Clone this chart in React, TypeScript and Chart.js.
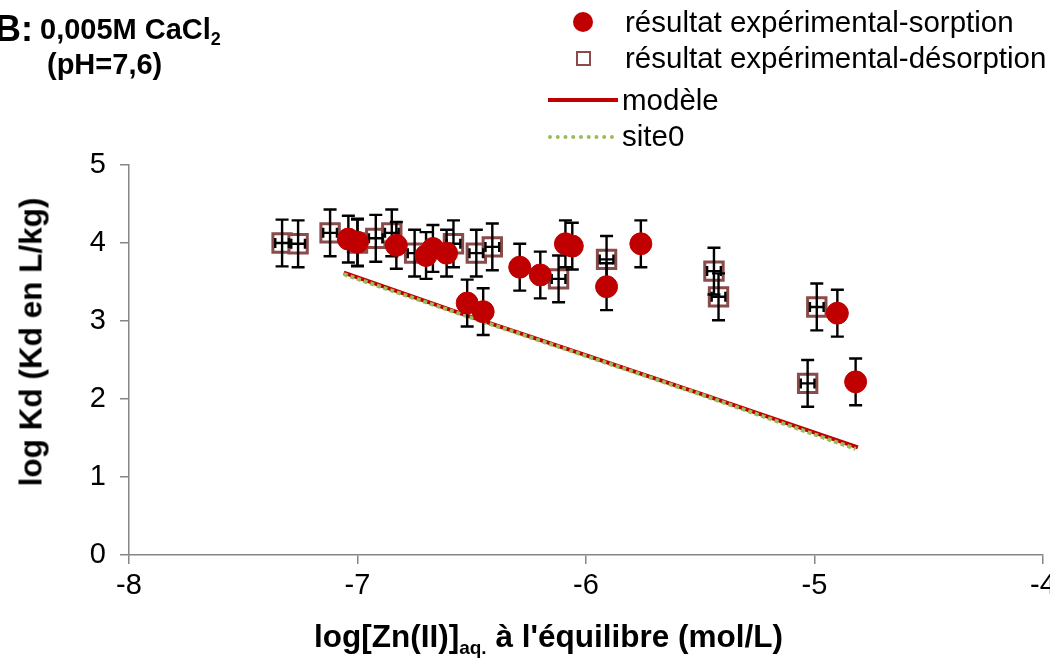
import React, { useEffect, useRef } from "react";
import { Chart, registerables } from "chart.js";

Chart.register(...registerables);

// ---- data ----
const sorptionX = [-7.04, -7.0, -6.83, -6.7, -6.67, -6.61, -6.52, -6.45, -6.29, -6.2, -6.09, -6.06, -5.91, -5.76, -4.9, -4.82];
const sorptionY = [4.05, 4.01, 3.97, 3.84, 3.93, 3.87, 3.23, 3.12, 3.69, 3.59, 3.99, 3.96, 3.44, 3.99, 3.1, 2.22];
const sorptionErr = [0.3, 0.3, 0.3, 0.3, 0.3, 0.3, 0.3, 0.3, 0.3, 0.3, 0.3, 0.3, 0.3, 0.3, 0.3, 0.3];

const desorptionX = [-7.33, -7.26, -7.12, -7.0, -6.92, -6.85, -6.75, -6.58, -6.48, -6.41, -6.12, -5.91, -5.44, -5.42, -4.99, -5.03];
const desorptionY = [4.0, 3.99, 4.13, 4.0, 4.06, 4.13, 3.87, 3.99, 3.87, 3.95, 3.54, 3.79, 3.64, 3.31, 3.18, 2.2];
const desorptionErr = [0.3, 0.3, 0.3, 0.3, 0.3, 0.3, 0.3, 0.3, 0.3, 0.3, 0.3, 0.3, 0.3, 0.3, 0.3, 0.3];
const desorptionXErr = [0.03, 0.03, 0.03, 0.03, 0.03, 0.03, 0.03, 0.03, 0.03, 0.03, 0.03, 0.03, 0.03, 0.03, 0.03, 0.03];

const modelX = [-7.06, -6.52, -6.08, -5.5, -4.81];
const modelY = [3.62, 3.07, 2.64, 2.07, 1.38];
const site0X = [-7.06, -6.52, -6.08, -5.5, -4.82];
const site0Y = [3.6, 3.06, 2.63, 2.06, 1.36];

const xTicks = [-8, -7, -6, -5, -4];
const yTicks = [0, 1, 2, 3, 4, 5];

const RED = "#C00000";
const GREEN = "#9BBB59";
const SQ = "#8A4B4B";
const AXIS = "#868686";
const FONT = "'Liberation Sans', Arial, sans-serif";

const toPts = (xs: number[], ys: number[]) => xs.map((x, i) => ({ x, y: ys[i] }));

const errorBars = {
  id: "errorBars",
  beforeDatasetDraw(chart: any, args: any) {
    if (args.index !== 0) return; // draw just before the sorption dataset
    const { ctx, scales } = chart;
    const xs = scales.x, ys = scales.y;
    ctx.save();
    ctx.strokeStyle = "#000";
    ctx.lineWidth = 2.4;
    const cap = 6.5;
    const vbar = (x: number, y: number, e: number) => {
      const px = xs.getPixelForValue(x);
      const p1 = ys.getPixelForValue(y - e);
      const p2 = ys.getPixelForValue(y + e);
      ctx.beginPath();
      ctx.moveTo(px, p1); ctx.lineTo(px, p2);
      ctx.moveTo(px - cap, p1); ctx.lineTo(px + cap, p1);
      ctx.moveTo(px - cap, p2); ctx.lineTo(px + cap, p2);
      ctx.stroke();
    };
    const hbar = (x: number, y: number, e: number) => {
      const py = ys.getPixelForValue(y);
      const p1 = xs.getPixelForValue(x - e);
      const p2 = xs.getPixelForValue(x + e);
      ctx.beginPath();
      ctx.moveTo(p1, py); ctx.lineTo(p2, py);
      ctx.moveTo(p1, py - 5); ctx.lineTo(p1, py + 5);
      ctx.moveTo(p2, py - 5); ctx.lineTo(p2, py + 5);
      ctx.stroke();
    };
    desorptionX.forEach((x, i) => {
      vbar(x, desorptionY[i], desorptionErr[i]);
      hbar(x, desorptionY[i], desorptionXErr[i]);
    });
    sorptionX.forEach((x, i) => vbar(x, sorptionY[i], sorptionErr[i]));
    ctx.restore();
  },
};

export default function App() {
  const ref = useRef<HTMLCanvasElement | null>(null);
  useEffect(() => {
    if (!ref.current) return;
    const tickFont = { family: FONT, size: 29 };
    const chart = new Chart(ref.current, {
      type: "scatter",
      data: {
        datasets: [
          {
            label: "résultat expérimental-sorption",
            data: toPts(sorptionX, sorptionY),
            pointStyle: "circle",
            pointRadius: 11,
            backgroundColor: RED,
            borderColor: RED,
            borderWidth: 1,
            order: 0,
          },
          {
            label: "résultat expérimental-désorption",
            data: toPts(desorptionX, desorptionY),
            pointStyle: "rect",
            pointRadius: 13,
            backgroundColor: "rgba(255,255,255,0.85)",
            borderColor: SQ,
            borderWidth: 3,
            order: 1,
          },
          {
            label: "site0",
            data: toPts(site0X, site0Y),
            showLine: true,
            borderColor: GREEN,
            borderWidth: 4,
            borderDash: [4, 3],
            pointRadius: 0,
            order: 2,
          },
          {
            label: "modèle",
            data: toPts(modelX, modelY),
            showLine: true,
            borderColor: RED,
            borderWidth: 4,
            pointRadius: 0,
            order: 3,
          },
        ],
      },
      options: {
        responsive: false,
        animation: false,
        layout: { autoPadding: false, padding: { left: 0, top: 165, right: 7, bottom: 0 } },
        plugins: { legend: { display: false }, tooltip: { enabled: false } },
        scales: {
          x: {
            type: "linear",
            min: -8,
            max: -4,
            afterBuildTicks: (s: any) => { s.ticks = xTicks.map((v) => ({ value: v })); },
            afterFit: (s: any) => { s.height = 108; s.paddingLeft = 0; s.paddingRight = 0; },
            ticks: { font: tickFont, color: "#000", padding: 5, maxRotation: 0, callback: (v: any) => String(v) },
            grid: { drawOnChartArea: false, drawTicks: true, tickLength: 9, color: AXIS, lineWidth: 1.5 },
            border: { color: AXIS, width: 1.5 },
          },
          y: {
            type: "linear",
            min: 0,
            max: 5,
            afterBuildTicks: (s: any) => { s.ticks = yTicks.map((v) => ({ value: v })); },
            afterFit: (s: any) => { s.width = 129; s.paddingTop = 0; s.paddingBottom = 0; },
            ticks: { font: tickFont, color: "#000", padding: 14, callback: (v: any) => String(v) },
            grid: { drawOnChartArea: false, drawTicks: true, tickLength: 9, color: AXIS, lineWidth: 1.5 },
            border: { color: AXIS, width: 1.5 },
          },
        },
      },
      plugins: [errorBars],
    });
    return () => chart.destroy();
  }, []);

  const legendText: React.CSSProperties = {
    position: "absolute",
    fontFamily: FONT,
    fontSize: 29.5,
    lineHeight: "29px",
    color: "#000",
    whiteSpace: "nowrap",
  };
  const bold: React.CSSProperties = {
    position: "absolute",
    fontFamily: FONT,
    fontWeight: "bold",
    color: "#000",
    whiteSpace: "nowrap",
  };

  return (
    <div style={{ position: "fixed", left: 0, top: 0, width: 1050, height: 663, background: "#fff", overflow: "hidden" }}>
      <canvas ref={ref} width={1050} height={663} style={{ display: "block", position: "absolute", left: 0, top: 0 }} />
      {/* panel label */}
      <div style={{ ...bold, left: -5, top: 11, fontSize: 36, lineHeight: "36px" }}>B:</div>
      <div style={{ ...bold, left: 40, top: 15, fontSize: 29, lineHeight: "29px" }}>
        0,005M CaCl<sub style={{ fontSize: 18, verticalAlign: "-6px", lineHeight: 0 }}>2</sub>
      </div>
      <div style={{ ...bold, left: 47, top: 50, fontSize: 29, lineHeight: "29px" }}>(pH=7,6)</div>

      {/* legend */}
      <div style={{ position: "absolute", left: 573, top: 12, width: 20, height: 20, borderRadius: 10, background: RED }} />
      <div style={{ ...legendText, left: 625, top: 7 }}>résultat expérimental-sorption</div>
      <div style={{ position: "absolute", left: 576, top: 51, width: 11, height: 11, border: `2px solid ${SQ}`, background: "#fff" }} />
      <div style={{ ...legendText, left: 625, top: 43 }}>résultat expérimental-désorption</div>
      <div style={{ position: "absolute", left: 548, top: 98, width: 70, height: 4, background: RED }} />
      <div style={{ ...legendText, left: 622, top: 85 }}>modèle</div>
      <div style={{ position: "absolute", left: 548, top: 135, width: 66, height: 0, borderTop: `4px dotted ${GREEN}` }} />
      <div style={{ ...legendText, left: 622, top: 121 }}>site0</div>

      {/* axis titles */}
      <div
        style={{
          ...bold,
          fontSize: 31.5,
          lineHeight: "31px",
          left: 31,
          top: 342,
          transform: "translate(-50%, -50%) rotate(-90deg)",
        }}
      >
        log Kd (Kd en L/kg)
      </div>
      <div style={{ ...bold, fontSize: 31.5, lineHeight: "31px", left: 314, top: 621 }}>
        log[Zn(II)]<sub style={{ fontSize: 19, verticalAlign: "-7px", lineHeight: 0 }}>aq.</sub> à l'équilibre (mol/L)
      </div>
    </div>
  );
}
